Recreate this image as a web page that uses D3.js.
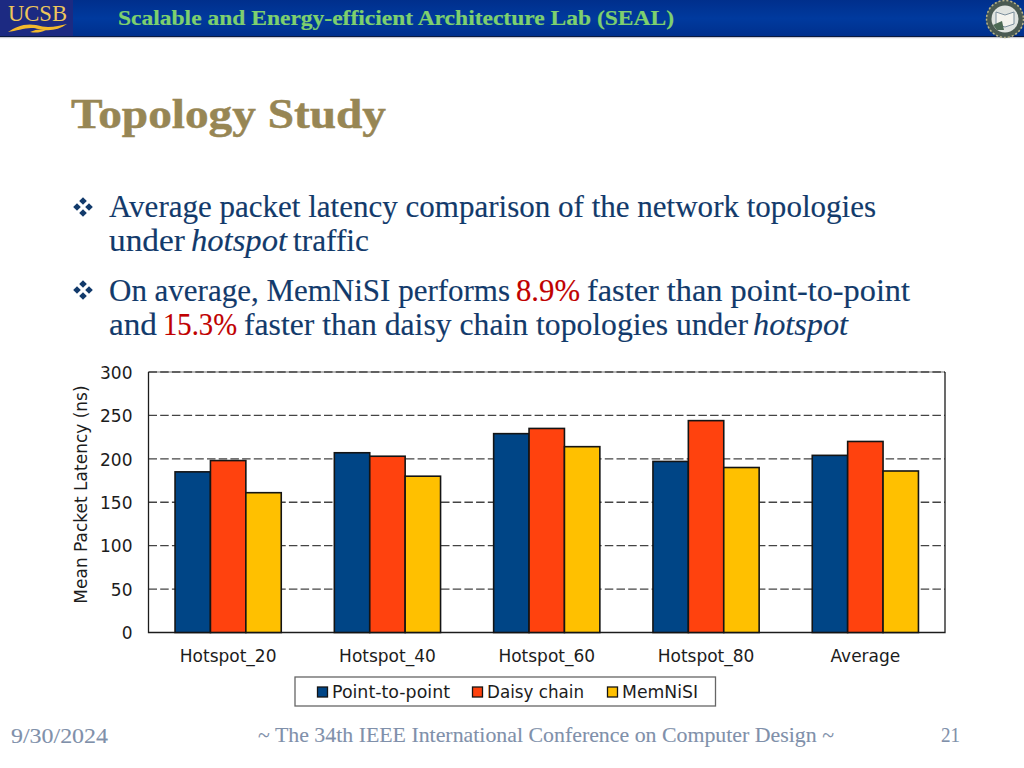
<!DOCTYPE html>
<html><head><meta charset="utf-8">
<script src="https://cdn.jsdelivr.net/npm/d3@7"></script>
<style>html,body{margin:0;padding:0;background:#fff}svg{display:block}</style>
</head><body><div id="c"></div>
<script>
const categories=["Hotspot_20","Hotspot_40","Hotspot_60","Hotspot_80","Average"];
const seriesNames=["Point-to-point","Daisy chain","MemNiSI"];
const seriesColors=["#004586","#ff420e","#ffc000"];
const pointToPoint=[185,207,229,197,204];
const daisyChain=[198,203,235,244,220];
const memNiSI=[161,180,214,190,186];
const yTicks=[0,50,100,150,200,250,300];
const seriesValues=[pointToPoint,daisyChain,memNiSI];

const svg=d3.select("#c").append("svg").attr("width",1024).attr("height",768);
const SERIF="'Liberation Serif',serif", SANS="'DejaVu Sans',sans-serif";
const NAVY="#123a6b", RED="#c00000", INK="#1c1c1c";

// Header
const defs=svg.append("defs");
const g=defs.append("linearGradient").attr("id","hdr").attr("x1",0).attr("x2",0).attr("y1",0).attr("y2",1);
g.append("stop").attr("offset",0).attr("stop-color","#002f8c");
g.append("stop").attr("offset",.5).attr("stop-color","#003a9e");
g.append("stop").attr("offset",1).attr("stop-color","#002f8c");
svg.append("rect").attr("width",1024).attr("height",37).attr("fill","url(#hdr)");
svg.append("rect").attr("y",36).attr("width",1024).attr("height",1.2).attr("fill","#0a1a40");
svg.append("rect").attr("y",37.2).attr("width",1024).attr("height",1).attr("fill","#c8c8d0");
svg.append("rect").attr("width",73).attr("height",36).attr("fill","#1c2a82");
svg.append("text").attr("x",8).attr("y",21).attr("font-family",SERIF).attr("font-size",24)
  .attr("fill","#eec65a").attr("textLength",59).attr("lengthAdjust","spacingAndGlyphs").text("UCSB");
svg.append("path").attr("d","M8 32 C16 27,24 23,36 25 C41 26,44 27,48 27 C55 27,61 25,67 24 C60 29,52 31,44 30 C38 29,35 28,31 28 C24 28,16 31,8 32Z").attr("fill","#f2b92c");
svg.append("path").attr("d","M30 32 C36 29,41 29,46 30 C40 33,35 33,30 32Z").attr("fill","#f2b92c");

function t(x,x2,y,str,o={}){
  return svg.append("text").attr("x",x).attr("y",y)
   .attr("font-family",o.family||SERIF).attr("font-size",o.size||31)
   .attr("font-weight",o.bold?"bold":null).attr("font-style",o.italic?"italic":null)
   .attr("fill",o.fill||NAVY).attr("stroke",o.fill||NAVY).attr("stroke-width",o.sw===undefined?0.15:o.sw)
   .attr("textLength",x2-x).attr("lengthAdjust","spacingAndGlyphs").text(str);
}
t(118,674,25,"Scalable and Energy-efficient Architecture Lab (SEAL)",{bold:true,size:21,fill:"#7ed06e",sw:0.2});

// Seal
const seal=svg.append("g").attr("transform","translate(1005,19)");
seal.append("circle").attr("r",19).attr("fill","#4a5a52");
seal.append("circle").attr("r",18.5).attr("fill","none").attr("stroke","#b9b48c").attr("stroke-width",1.5).attr("stroke-dasharray","2 2");
seal.append("circle").attr("r",13.5).attr("fill","#dfe3e0");
seal.append("path").attr("d","M-9 -7 L0 -4 L9 -7 L9 5 L0 8 L-9 5Z").attr("fill","#f3f3ee").attr("stroke","#7b8e9c");
seal.append("path").attr("d","M-12 6 L-3 2 L-1 11 L-8 11Z").attr("fill","#4d6a55");

// Title + body
t(71,386,127.5,"Topology Study",{bold:true,size:43,fill:"#978654",sw:0.5});
function diamonds(cx,cy){
  [[0,-6],[0,6],[-6,0],[6,0]].forEach(([dx,dy])=>svg.append("path")
    .attr("transform",`translate(${cx+dx},${cy+dy})`).attr("d","M0 -3.8L3.8 0L0 3.8L-3.8 0Z").attr("fill",NAVY));
}
diamonds(83,207);diamonds(83,290);
t(109,876,216.5,"Average packet latency comparison of the network topologies");
t(109,185,250.5,"under");t(191,287,250.5,"hotspot",{italic:true});t(293,369,250.5,"traffic");
t(109,510,300.5,"On average, MemNiSI performs");t(516,580,300.5,"8.9%",{fill:RED});t(587,910,300.5,"faster than point-to-point");
t(109,157,334.5,"and");t(163,237,334.5,"15.3%",{fill:RED});t(244,748,334.5,"faster than daisy chain topologies under");t(753,848,334.5,"hotspot",{italic:true});

// Chart
const L=148.5,R=945,T=372,B=632.5;
const x=d3.scaleBand().domain(categories).range([L,R]).paddingInner(1/3).paddingOuter(1/6);
const x1=d3.scaleBand().domain(seriesNames).range([0,x.bandwidth()]);
const y=d3.scaleLinear().domain([0,300]).range([B,T]);
svg.append("line").attr("x1",L).attr("x2",R).attr("y1",T).attr("y2",T).attr("stroke","#777").attr("stroke-width",1.2);
svg.append("g").selectAll("line").data(yTicks.filter(d=>d>0)).join("line")
  .attr("x1",L).attr("x2",R).attr("y1",d=>y(d)).attr("y2",d=>y(d))
  .attr("stroke","#444").attr("stroke-width",1.4).attr("stroke-dasharray","8.5 3.2");
svg.append("path").attr("d",`M${L} ${T}V${B}H${R}V${T}`).attr("fill","none").attr("stroke",INK).attr("stroke-width",1.3);
const groups=svg.selectAll("g.grp").data(categories).join("g").attr("class","grp").attr("transform",d=>`translate(${x(d)},0)`);
groups.selectAll("rect").data((d,i)=>seriesNames.map((s,j)=>({s,c:seriesColors[j],v:seriesValues[j][i]}))).join("rect")
  .attr("x",d=>x1(d.s)).attr("width",x1.bandwidth()).attr("y",d=>y(d.v)).attr("height",d=>B-y(d.v))
  .attr("fill",d=>d.c).attr("stroke","#141414").attr("stroke-width",1.6);
const yA=svg.append("g").attr("transform",`translate(${L},0.8)`).call(d3.axisLeft(y).tickValues(yTicks).tickSize(0).tickPadding(16));
yA.select(".domain").remove();
yA.selectAll("text").attr("font-family",SANS).attr("font-size",17).attr("fill",INK);
const xA=svg.append("g").attr("transform",`translate(0,${B})`).call(d3.axisBottom(x).tickSize(0).tickPadding(17));
xA.select(".domain").remove();
xA.selectAll("text").attr("font-family",SANS).attr("font-size",17).attr("fill",INK);
svg.append("text").attr("transform","translate(87,494.5) rotate(-90)").attr("text-anchor","middle")
  .attr("font-family",SANS).attr("font-size",17).attr("fill",INK).text("Mean Packet Latency (ns)");

// Legend
svg.append("rect").attr("x",295).attr("y",677).attr("width",420.5).attr("height",29).attr("fill","#fff").attr("stroke","#666").attr("stroke-width",1.3);
const legX=[317.5,472.5,607.5];
const legW=[118,97,76];
seriesNames.forEach((s,i)=>{
  svg.append("rect").attr("x",legX[i]).attr("y",687).attr("width",10).attr("height",10).attr("fill",seriesColors[i]).attr("stroke","#141414").attr("stroke-width",1.3);
  svg.append("text").attr("x",legX[i]+14.5).attr("y",697.5).attr("font-family",SANS).attr("font-size",17).attr("fill",INK)
    .attr("textLength",legW[i]).attr("lengthAdjust","spacingAndGlyphs").text(s);
});

// Footer
const FOOT="#8090aa";
t(11,108,743,"9/30/2024",{size:21,fill:FOOT,sw:0.1});
t(258,834,742,"~ The 34th IEEE International Conference on Computer Design ~",{size:21,fill:FOOT,sw:0.1});
t(941,960,742,"21",{size:21,fill:FOOT,sw:0.1});
</script></body></html>
